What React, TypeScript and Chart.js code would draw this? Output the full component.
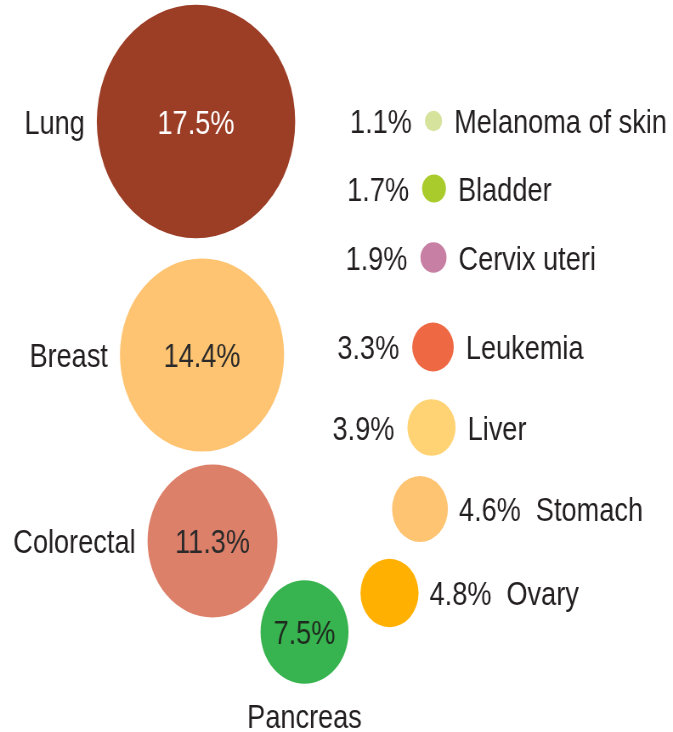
import { useEffect, useRef } from "react";
import { Chart, registerables } from "chart.js";

Chart.register(...registerables);

// ---- data ----
const categories = [
  "Lung",
  "Breast",
  "Colorectal",
  "Pancreas",
  "Ovary",
  "Stomach",
  "Liver",
  "Leukemia",
  "Cervix uteri",
  "Bladder",
  "Melanoma of skin",
];
const shares = [17.5, 14.4, 11.3, 7.5, 4.8, 4.6, 3.9, 3.3, 1.9, 1.7, 1.1];
const shareLabels = ["17.5%", "14.4%", "11.3%", "7.5%", "4.8%", "4.6%", "3.9%", "3.3%", "1.9%", "1.7%", "1.1%"];

// ---- layout (packed-bubble positions in layout units) ----
const layoutX = [196, 202, 212.5, 304.5, 389.5, 420, 431.5, 433, 433.5, 434, 433.5];
const layoutY = [121.5, 355, 541, 632, 593, 509, 427.5, 347, 257.5, 188.5, 121];
const labelModes = ["left", "left", "left", "below", "right", "right", "side", "side", "side", "side", "side"];

// ---- styles ----
const bubbleColors = [
  "#9c3d26",
  "#fec472",
  "#dc806a",
  "#37b34f",
  "#ffb000",
  "#fec472",
  "#ffd374",
  "#ee6843",
  "#c77fa4",
  "#a9cb2c",
  "#d5e39c",
];
const valueTextColors = ["#ffffff", "#2a2a2a", "#2a2a2a", "#1f2a1f", "", "", "", "", "", "", ""];

const PAGE_W = 673;
const PAGE_H = 732;
const CANVAS_W = 792; // drawn wider, shown at PAGE_W -> condensed look
const SX = PAGE_W / CANVAS_W;
const TEXT_SQUEEZE = 0.94;
const FONT_SIZE = 34;
const FONT = `${FONT_SIZE}px "Liberation Sans", Arial, sans-serif`;
const TEXT_COLOR = "#231f20";
const CAP_HALF = FONT_SIZE * 0.716 * 0.5;

function radiusFor(v: number) {
  return 3 + 6.5 * v;
}

function drawText(ctx: CanvasRenderingContext2D, text: string, x: number, y: number, align: CanvasTextAlign, color: string) {
  ctx.save();
  ctx.translate(x, y);
  ctx.scale(TEXT_SQUEEZE, 1);
  ctx.font = FONT;
  ctx.textAlign = align;
  ctx.textBaseline = "alphabetic";
  ctx.fillStyle = color;
  ctx.fillText(text, 0, CAP_HALF);
  ctx.restore();
}

const labelPlugin = {
  id: "bubbleLabels",
  afterDatasetsDraw(chart: any) {
    const ctx: CanvasRenderingContext2D = chart.ctx;
    const meta = chart.getDatasetMeta(0);
    const gapL = 12 / SX;
    const gapSide = 13 / SX;
    meta.data.forEach((el: any, i: number) => {
      const x = el.x;
      const y = el.y;
      const r = el.options.radius;
      const mode = labelModes[i];
      if (mode === "left") {
        drawText(ctx, shareLabels[i], x, y, "center", valueTextColors[i]);
        drawText(ctx, categories[i], x - r - gapL, y, "right", TEXT_COLOR);
      } else if (mode === "below") {
        drawText(ctx, shareLabels[i], x, y, "center", valueTextColors[i]);
        drawText(ctx, categories[i], x, y + r + 32, "center", TEXT_COLOR);
      } else if (mode === "right") {
        const start = x + r + 11 / SX;
        drawText(ctx, shareLabels[i], start, y, "left", TEXT_COLOR);
        ctx.save();
        ctx.font = FONT;
        const w = ctx.measureText(shareLabels[i]).width * TEXT_SQUEEZE;
        ctx.restore();
        drawText(ctx, categories[i], start + w + 15 / SX, y, "left", TEXT_COLOR);
      } else {
        drawText(ctx, shareLabels[i], x - r - gapSide, y, "right", TEXT_COLOR);
        drawText(ctx, categories[i], x + r + gapL, y, "left", TEXT_COLOR);
      }
    });
  },
};

export default function App() {
  const canvasRef = useRef<HTMLCanvasElement | null>(null);

  useEffect(() => {
    const canvas = canvasRef.current;
    if (!canvas) return;
    const chart = new Chart(canvas, {
      type: "bubble",
      data: {
        datasets: [
          {
            label: "Share",
            data: shares.map((v, i) => ({ x: layoutX[i], y: layoutY[i], r: radiusFor(v) })),
            backgroundColor: bubbleColors,
            borderWidth: 0,
            hoverRadius: 0,
            clip: false as any,
          },
        ],
      },
      options: {
        responsive: false,
        devicePixelRatio: 1,
        animation: false,
        events: [],
        layout: { padding: 0, autoPadding: false },
        scales: {
          x: { type: "linear", min: 0, max: PAGE_W, display: false },
          y: { type: "linear", min: 0, max: PAGE_H, reverse: true, display: false },
        },
        plugins: {
          legend: { display: false },
          tooltip: { enabled: false },
        },
      },
      plugins: [labelPlugin],
    });
    return () => chart.destroy();
  }, []);

  return (
    <div style={{ position: "fixed", left: 0, top: 0, width: PAGE_W, height: PAGE_H, background: "#ffffff" }}>
      <canvas
        ref={canvasRef}
        width={CANVAS_W}
        height={PAGE_H}
        style={{ width: PAGE_W + "px", height: PAGE_H + "px", display: "block" }}
      />
    </div>
  );
}
